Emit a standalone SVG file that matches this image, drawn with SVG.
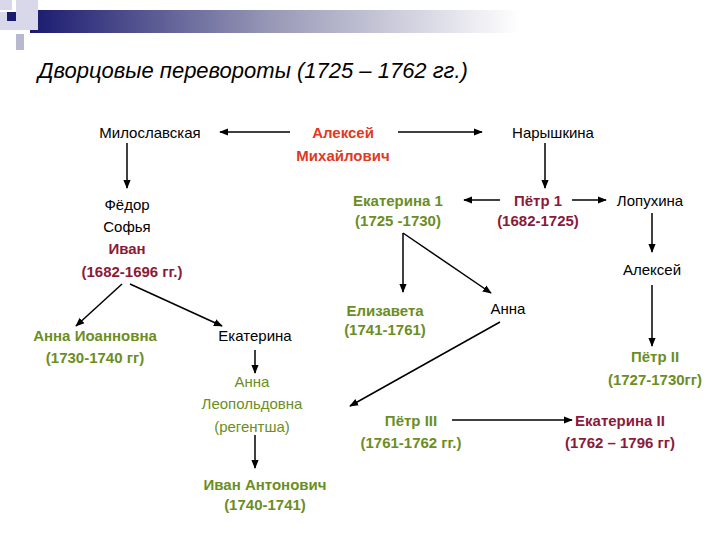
<svg xmlns="http://www.w3.org/2000/svg" width="720" height="540" viewBox="0 0 720 540">
<defs>
<linearGradient id="bar" x1="0" x2="1" y1="0" y2="0"><stop offset="0" stop-color="#1a1a70"/><stop offset="0.5" stop-color="#9a9ab8"/><stop offset="1" stop-color="#ffffff"/></linearGradient>
<marker id="ar" viewBox="0 0 10 10" refX="9" refY="5" markerWidth="6" markerHeight="6" orient="auto"><path d="M0,1 L10,5 L0,9 z" fill="#000"/></marker>
<style>
text{font-family:"Liberation Sans",Arial,sans-serif;font-size:15px;text-anchor:middle;fill:#000}
.g{fill:#6b8e23;font-weight:bold}
.gn{fill:#6b8e23}
.m{fill:#8b1a3a;font-weight:bold}
.r{fill:#e03a1e;font-weight:bold}
.c line{stroke:#000;stroke-width:1.5;marker-end:url(#ar)}
</style>
</defs>
<rect width="720" height="540" fill="#fff"/>
<g id="header">
<rect x="30" y="10" width="490" height="23" fill="url(#bar)"/>
<rect x="0" y="0" width="12" height="10" fill="#d8d8ea"/>
<rect x="16" y="0" width="22" height="30" fill="#d8d8ea"/>
<rect x="0" y="12" width="16" height="18" fill="#d8d8ea"/>
<rect x="7" y="12" width="9" height="9" fill="#1a1a70"/>
<rect x="16" y="34" width="8" height="16" fill="#b8b8d0"/>
<text x="38" y="78" style="font-size:22px;font-style:italic;text-anchor:start">Дворцовые перевороты (1725 – 1762 гг.)</text>
</g>
<g class="c" id="connectors">
<line x1="290" y1="132" x2="220" y2="132"/>
<line x1="398" y1="132" x2="482" y2="132"/>
<line x1="127" y1="143" x2="127" y2="188"/>
<line x1="122" y1="284" x2="76" y2="326"/>
<line x1="130" y1="284" x2="222" y2="326"/>
<line x1="255" y1="350" x2="255" y2="373"/>
<line x1="255" y1="435" x2="255" y2="468"/>
<line x1="545" y1="143" x2="545" y2="188"/>
<line x1="500" y1="200" x2="464" y2="200"/>
<line x1="572" y1="200" x2="606" y2="200"/>
<line x1="652" y1="213" x2="652" y2="252"/>
<line x1="652" y1="285" x2="652" y2="346"/>
<line x1="403" y1="233" x2="403" y2="292"/>
<line x1="403" y1="233" x2="491" y2="293"/>
<line x1="500" y1="322" x2="350" y2="406"/>
<line x1="452" y1="420" x2="572" y2="420"/>
</g>
<g id="n-milos"><text x="150" y="138">Милославская</text></g>
<g id="n-aleksey-m"><text class="r" x="343" y="138">Алексей</text><text class="r" x="343" y="161">Михайлович</text></g>
<g id="n-naryshkina"><text x="553" y="138">Нарышкина</text></g>
<g id="n-fedor"><text x="127" y="210">Фёдор</text><text x="127" y="232">Софья</text><text class="m" x="127" y="254">Иван</text><text class="m" x="132" y="277">(1682-1696 гг.)</text></g>
<g id="n-anna-io"><text class="g" x="95" y="341">Анна Иоанновна</text><text class="g" x="95" y="363">(1730-1740 гг)</text></g>
<g id="n-ekaterina"><text x="255" y="341">Екатерина</text></g>
<g id="n-anna-leo"><text class="gn" x="252" y="387">Анна</text><text class="gn" x="252" y="409">Леопольдовна</text><text class="gn" x="252" y="432">(регентша)</text></g>
<g id="n-ivan-ant"><text class="g" x="265" y="490">Иван Антонович</text><text class="g" x="265" y="510">(1740-1741)</text></g>
<g id="n-ek1"><text class="g" x="398" y="206">Екатерина 1</text><text class="g" x="398" y="226">(1725 -1730)</text></g>
<g id="n-petr1"><text class="m" x="538" y="206">Пётр 1</text><text class="m" x="538" y="226">(1682-1725)</text></g>
<g id="n-lopukhina"><text x="650" y="206">Лопухина</text></g>
<g id="n-aleksey"><text x="652" y="275">Алексей</text></g>
<g id="n-elizaveta"><text class="g" x="385" y="316">Елизавета</text><text class="g" x="385" y="335">(1741-1761)</text></g>
<g id="n-anna"><text x="508" y="314">Анна</text></g>
<g id="n-petr2"><text class="g" x="655" y="362">Пётр II</text><text class="g" x="655" y="385">(1727-1730гг)</text></g>
<g id="n-petr3"><text class="g" x="411" y="426">Пётр III</text><text class="g" x="411" y="448">(1761-1762 гг.)</text></g>
<g id="n-ek2"><text class="m" x="620" y="426">Екатерина II</text><text class="m" x="620" y="448">(1762 – 1796 гг)</text></g>
</svg>
